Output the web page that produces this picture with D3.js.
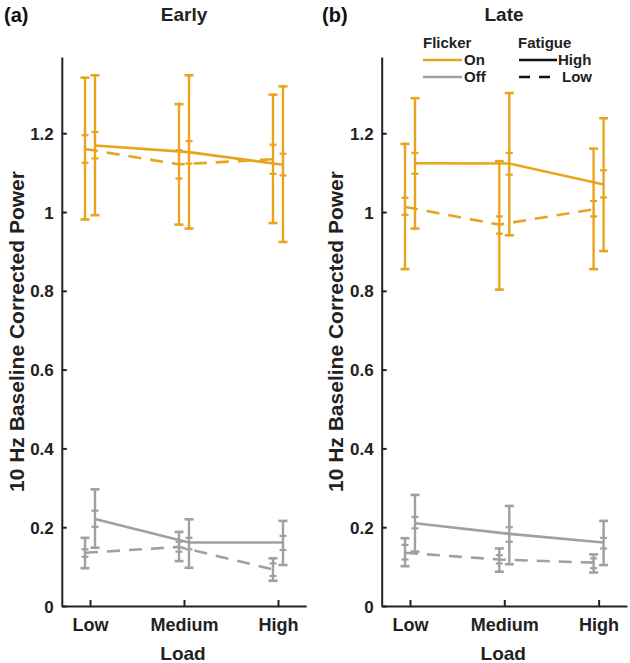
<!DOCTYPE html>
<html>
<head>
<meta charset="utf-8">
<script src="https://cdn.jsdelivr.net/npm/d3@7"></script>
<style>
  html, body { margin: 0; padding: 0; background: #fff; }
  svg { display: block; font-family: "Liberation Sans", Arial, sans-serif; font-weight: bold; }
</style>
</head>
<body>
<svg id="chart" width="630" height="663"></svg>
<script>
// ---------------- data ----------------
const categories = ["Low", "Medium", "High"];
const yTicks = [0, 0.2, 0.4, 0.6, 0.8, 1, 1.2];
const panelTitles = ["Early", "Late"];
const panelLetters = ["(a)", "(b)"];

// Early (a)
const earlyOnHighMean  = [1.169, 1.152, 1.120];
const earlyOnHighOutLo = [0.992, 0.958, 0.924];
const earlyOnHighOutHi = [1.347, 1.347, 1.319];
const earlyOnHighInLo  = [1.136, 1.123, 1.093];
const earlyOnHighInHi  = [1.203, 1.180, 1.148];

const earlyOnLowMean  = [1.160, 1.121, 1.134];
const earlyOnLowOutLo = [0.981, 0.968, 0.972];
const earlyOnLowOutHi = [1.341, 1.274, 1.298];
const earlyOnLowInLo  = [1.125, 1.085, 1.097];
const earlyOnLowInHi  = [1.195, 1.157, 1.171];

const earlyOffHighMean  = [0.221, 0.161, 0.161];
const earlyOffHighOutLo = [0.148, 0.097, 0.104];
const earlyOffHighOutHi = [0.296, 0.220, 0.216];
const earlyOffHighInLo  = [0.201, 0.144, 0.142];
const earlyOffHighInHi  = [0.242, 0.173, 0.178];

const earlyOffLowMean  = [0.135, 0.150, 0.093];
const earlyOffLowOutLo = [0.096, 0.114, 0.064];
const earlyOffLowOutHi = [0.173, 0.188, 0.121];
const earlyOffLowInLo  = [0.125, 0.138, 0.076];
const earlyOffLowInHi  = [0.144, 0.163, 0.108];

// Late (b)
const lateOnHighMean  = [1.124, 1.123, 1.070];
const lateOnHighOutLo = [0.958, 0.941, 0.901];
const lateOnHighOutHi = [1.289, 1.302, 1.238];
const lateOnHighInLo  = [1.097, 1.095, 1.037];
const lateOnHighInHi  = [1.150, 1.150, 1.106];

const lateOnLowMean  = [1.013, 0.968, 1.007];
const lateOnLowOutLo = [0.855, 0.803, 0.855];
const lateOnLowOutHi = [1.173, 1.129, 1.161];
const lateOnLowInLo  = [0.993, 0.945, 0.989];
const lateOnLowInHi  = [1.036, 0.989, 1.028];

const lateOffHighMean  = [0.210, 0.183, 0.161];
const lateOffHighOutLo = [0.138, 0.106, 0.104];
const lateOffHighOutHi = [0.282, 0.254, 0.216];
const lateOffHighInLo  = [0.197, 0.163, 0.146];
const lateOffHighInHi  = [0.226, 0.200, 0.173];

const lateOffLowMean  = [0.135, 0.118, 0.110];
const lateOffLowOutLo = [0.101, 0.087, 0.085];
const lateOffLowOutHi = [0.172, 0.146, 0.131];
const lateOffLowInLo  = [0.118, 0.108, 0.096];
const lateOffLowInHi  = [0.155, 0.129, 0.121];

// ---------------- styles ----------------
const ORANGE = "#E9A41E";
const GRAY = "#A0A0A0";
const AXIS = "#222";

function series(flicker, fatigue, mean, outLo, outHi, inLo, inHi) {
  return { flicker, fatigue, pts: categories.map((c, i) => ({
    i: i + 1, mean: mean[i], outLo: outLo[i], outHi: outHi[i], inLo: inLo[i], inHi: inHi[i] })) };
}

const panels = [
  [
    series("On", "Low", earlyOnLowMean, earlyOnLowOutLo, earlyOnLowOutHi, earlyOnLowInLo, earlyOnLowInHi),
    series("On", "High", earlyOnHighMean, earlyOnHighOutLo, earlyOnHighOutHi, earlyOnHighInLo, earlyOnHighInHi),
    series("Off", "Low", earlyOffLowMean, earlyOffLowOutLo, earlyOffLowOutHi, earlyOffLowInLo, earlyOffLowInHi),
    series("Off", "High", earlyOffHighMean, earlyOffHighOutLo, earlyOffHighOutHi, earlyOffHighInLo, earlyOffHighInHi)
  ],
  [
    series("On", "Low", lateOnLowMean, lateOnLowOutLo, lateOnLowOutHi, lateOnLowInLo, lateOnLowInHi),
    series("On", "High", lateOnHighMean, lateOnHighOutLo, lateOnHighOutHi, lateOnHighInLo, lateOnHighInHi),
    series("Off", "Low", lateOffLowMean, lateOffLowOutLo, lateOffLowOutHi, lateOffLowInLo, lateOffLowInHi),
    series("Off", "High", lateOffHighMean, lateOffHighOutLo, lateOffHighOutHi, lateOffHighInLo, lateOffHighInHi)
  ]
];

const svg = d3.select("#chart");

const layouts = [
  { left: 61.8, right: 306.2, titleX: 184, letterX: 4, ylabX: 24, tickLabelEnd: 54 },
  { left: 381.7, right: 626.9, titleX: 504, letterX: 322, ylabX: 343, tickLabelEnd: 374 }
];
const yTop = 57, yBottom = 606;

panels.forEach((data, p) => {
  const L = layouts[p];
  const x = d3.scaleLinear().domain([0.7, 3.3]).range([L.left, L.right]);
  const y = d3.scaleLinear().domain([0, 1.3935]).range([yBottom, yTop]);
  const g = svg.append("g");

  // axes
  const yAxis = d3.axisLeft(y).tickValues(yTicks).tickSize(-5).tickSizeOuter(0)
    .tickPadding(8).tickFormat(d3.format("~g"));
  const ya = g.append("g").attr("transform", `translate(${L.left},0)`).call(yAxis);
  const xAxis = d3.axisBottom(x).tickValues([1, 2, 3]).tickSize(-6).tickSizeOuter(0)
    .tickPadding(12).tickFormat(d => categories[d - 1]);
  const xa = g.append("g").attr("transform", `translate(0,${yBottom})`).call(xAxis);
  [ya, xa].forEach(a => {
    a.select(".domain").attr("stroke", AXIS).attr("stroke-width", 2);
    a.selectAll(".tick line").attr("stroke", AXIS).attr("stroke-width", 2);
    a.selectAll(".tick text").attr("fill", "#222").attr("font-family", null);
  });
  ya.attr("font-size", 17);
  xa.attr("font-size", 18);
  ya.selectAll(".tick text").attr("dy", "0.36em");
  xa.selectAll(".tick text").attr("dy", "0.71em");

  // titles
  g.append("text").attr("x", L.titleX).attr("y", 21).attr("text-anchor", "middle")
    .attr("font-size", 19).attr("fill", "#222").text(panelTitles[p]);
  g.append("text").attr("x", L.letterX).attr("y", 22)
    .attr("font-size", 20).attr("fill", "#111").text(panelLetters[p]);
  g.append("text").attr("transform", `translate(${L.ylabX},${(yTop + yBottom) / 2}) rotate(-90)`)
    .attr("text-anchor", "middle").attr("font-size", 21).attr("fill", "#222")
    .text("10 Hz Baseline Corrected Power");
  g.append("text").attr("x", (L.left + L.right) / 2 - 1).attr("y", 660).attr("text-anchor", "middle")
    .attr("font-size", 19).attr("fill", "#222").text("Load");

  const off = d => d.fatigue === "Low" ? -5 : 5;
  const color = d => d.flicker === "On" ? ORANGE : GRAY;

  // error bars
  data.forEach(s => {
    const c = color(s);
    const eg = g.append("g").attr("stroke", c).attr("stroke-width", 2.4).attr("fill", "none");
    s.pts.forEach(pt => {
      const cx = x(pt.i) + off(s);
      eg.append("line").attr("x1", cx).attr("x2", cx).attr("y1", y(pt.outLo)).attr("y2", y(pt.outHi));
      [pt.outLo, pt.outHi].forEach(v =>
        eg.append("line").attr("x1", cx - 4.5).attr("x2", cx + 4.5).attr("y1", y(v)).attr("y2", y(v)).attr("stroke-width", 2.6));
      [pt.inLo, pt.inHi].forEach(v =>
        eg.append("line").attr("x1", cx - 3.5).attr("x2", cx + 3.5).attr("y1", y(v)).attr("y2", y(v)).attr("stroke-width", 2.2));
    });
  });

  // mean lines
  data.forEach(s => {
    const line = d3.line().x(pt => x(pt.i) + off(s)).y(pt => y(pt.mean));
    g.append("path").datum(s.pts).attr("d", line)
      .attr("fill", "none").attr("stroke", color(s)).attr("stroke-width", 2.6)
      .attr("stroke-dasharray", s.fatigue === "Low" ? "13,9" : null);
  });

  // legend (right panel only)
  if (p === 1) {
    const lg = g.append("g").attr("font-size", 15).attr("fill", "#222");
    lg.append("text").attr("x", 423).attr("y", 48).text("Flicker");
    lg.append("text").attr("x", 518).attr("y", 48).text("Fatigue");
    const flick = [{ lab: "On", c: ORANGE, y: 60 }, { lab: "Off", c: GRAY, y: 77 }];
    flick.forEach(f => {
      lg.append("line").attr("x1", 423).attr("x2", 462).attr("y1", f.y).attr("y2", f.y)
        .attr("stroke", f.c).attr("stroke-width", 2.6);
      lg.append("text").attr("x", 464).attr("y", f.y + 5).text(f.lab);
    });
    const fat = [{ lab: "High", dash: null, y: 60, tx: 558 }, { lab: "Low", dash: "11,9", y: 77, tx: 562 }];
    fat.forEach(f => {
      lg.append("line").attr("x1", 519).attr("x2", f.dash ? 550 : 557).attr("y1", f.y).attr("y2", f.y)
        .attr("stroke", "#111").attr("stroke-width", 2.6).attr("stroke-dasharray", f.dash);
      lg.append("text").attr("x", f.tx).attr("y", f.y + 5).text(f.lab);
    });
  }
});
</script>
</body>
</html>
